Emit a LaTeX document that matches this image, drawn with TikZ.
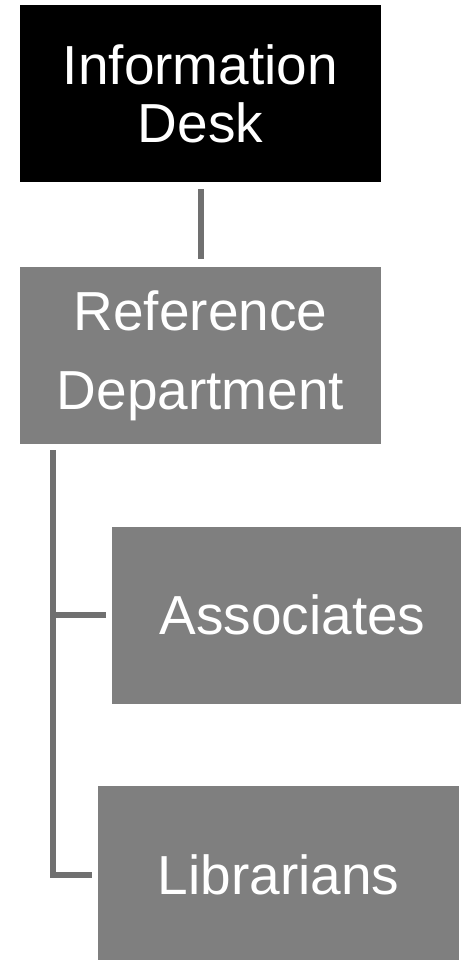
\documentclass[tikz,border=0pt]{standalone}
\usepackage{fontspec}
\setmainfont{Liberation Sans}
\usetikzlibrary{positioning}

\definecolor{boxgray}{RGB}{127,127,127}
\definecolor{linegray}{RGB}{112,112,112}

\begin{document}
\begin{tikzpicture}[
    x=0.5pt, y=-0.5pt,
    node distance=42pt, % vertical spacing between levels
    unitbox/.style={rectangle, minimum width=180.5pt, minimum height=88.5pt, inner sep=0pt, align=center, text=white, font=\fontsize{27.5}{29}\selectfont},
    headbox/.style={unitbox, fill=black},
    deptbox/.style={unitbox, fill=boxgray},
    staffbox/.style={deptbox},
    link/.style={draw=linegray, line width=3pt}
]
\useasboundingbox (0,0) rectangle (461,960);

% Top levels
\node[headbox] (info) at (200.5,93.5) {Information\\Desk};
\node[deptbox, below=of info, font=\fontsize{27.5}{39.5}\selectfont] (dept) {Reference\\Department};

% Staff under the department
\node[staffbox, below=41pt of dept.south west, anchor=north west, xshift=46pt] (assoc) {Associates};
\node[staffbox, below=41pt of assoc.south west, anchor=north west, xshift=-7pt] (libr) {Librarians};

% Connectors
\coordinate (trunk) at ([xshift=16.75pt]dept.south west);
\draw[link, shorten <=3.5pt, shorten >=3.5pt] (info) -- (dept);
\draw[link, shorten <=3pt, shorten >=3pt] (trunk) |- (libr.west);
\draw[link, shorten <=3pt, shorten >=3pt] (trunk) |- (assoc.west);

\end{tikzpicture}
\end{document}
